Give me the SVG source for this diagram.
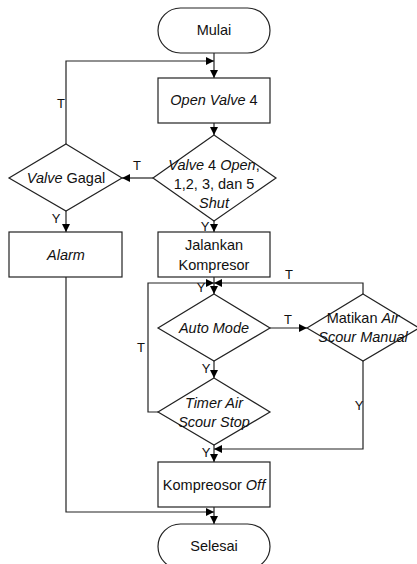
<svg xmlns="http://www.w3.org/2000/svg" width="417" height="564" viewBox="0 0 417 564">
  <defs>
    <marker id="arrow" viewBox="0 0 10 10" refX="10" refY="5" markerWidth="8" markerHeight="8" markerUnits="userSpaceOnUse" orient="auto">
      <path d="M0,0 L10,5 L0,10 Z" fill="#000"/>
    </marker>
    <style>
      .shape { fill: #fff; stroke: #222; stroke-width: 1.2; }
      .line { fill: none; stroke: #222; stroke-width: 1.2; }
      .arr { marker-end: url(#arrow); }
      text { font-family: "Liberation Sans", Arial, sans-serif; font-size: 14.5px; fill: #111; text-anchor: middle; }
      .lbl { font-size: 13px; }
      .it { font-style: italic; }
    </style>
  </defs>
  <rect width="417" height="564" fill="#fff"/>

  <!-- connectors -->
  <g id="connectors">
    <path class="line arr" d="M214,53 V78"/>
    <path class="line arr" d="M66,144 V61 H214"/>
    <path class="line arr" d="M214,123 V135"/>
    <path class="line arr" d="M153,178 H122"/>
    <path class="line arr" d="M66,211 V232"/>
    <path class="line arr" d="M214,221 V232"/>
    <path class="line arr" d="M214,277 V294"/>
    <path class="line arr" d="M363,294 V283 H214"/>
    <path class="line arr" d="M158,412 H148 V283 H214"/>
    <path class="line arr" d="M270,328 H307"/>
    <path class="line arr" d="M214,361 V378"/>
    <path class="line arr" d="M363,361 V449 H214"/>
    <path class="line arr" d="M214,445 V462"/>
    <path class="line arr" d="M66,277 V512 H214"/>
    <path class="line arr" d="M214,507 V524"/>
    <text class="lbl" x="61" y="108">T</text>
    <text class="lbl" x="137" y="170">T</text>
    <text class="lbl" x="56" y="223">Y</text>
    <text class="lbl" x="205" y="231">Y</text>
    <text class="lbl" x="289" y="279">T</text>
    <text class="lbl" x="201" y="292">Y</text>
    <text class="lbl" x="288" y="324">T</text>
    <text class="lbl" x="141" y="352">T</text>
    <text class="lbl" x="206" y="373">Y</text>
    <text class="lbl" x="359" y="410">Y</text>
    <text class="lbl" x="206" y="457">Y</text>
  </g>

  <g id="mulai">
    <rect class="shape" x="158" y="8" width="112" height="45" rx="22.5"/>
    <text x="214" y="35">Mulai</text>
  </g>

  <g id="open-valve">
    <rect class="shape" x="158" y="78" width="112" height="45"/>
    <text x="214" y="105"><tspan class="it">Open Valve</tspan> 4</text>
  </g>

  <g id="cek-valve">
    <polygon class="shape" points="214,135 276,178 214,221 153,178"/>
    <text x="214" y="170"><tspan class="it">Valve</tspan> 4 <tspan class="it">Open</tspan>,</text>
    <text x="214" y="189">1,2, 3, dan 5</text>
    <text x="214" y="208" class="it">Shut</text>
  </g>

  <g id="valve-gagal">
    <polygon class="shape" points="66,144 122,178 66,211 9,178"/>
    <text x="66" y="183"><tspan class="it">Valve</tspan> Gagal</text>
  </g>

  <g id="alarm">
    <rect class="shape" x="9" y="232" width="113" height="45"/>
    <text x="66" y="260" class="it">Alarm</text>
  </g>

  <g id="jalankan">
    <rect class="shape" x="158" y="232" width="112" height="45"/>
    <text x="214" y="250">Jalankan</text>
    <text x="214" y="270">Kompresor</text>
  </g>

  <g id="auto-mode">
    <polygon class="shape" points="214,294 270,328 214,361 158,328"/>
    <text x="214" y="333" class="it">Auto Mode</text>
  </g>

  <g id="matikan">
    <polygon class="shape" points="363,294 419,328 363,361 307,328"/>
    <text x="363" y="323">Matikan <tspan class="it">Air</tspan></text>
    <text x="363" y="342" class="it">Scour Manual</text>
  </g>

  <g id="timer">
    <polygon class="shape" points="214,378 270,412 214,445 158,412"/>
    <text x="214" y="408" class="it">Timer Air</text>
    <text x="214" y="427" class="it">Scour Stop</text>
  </g>

  <g id="kompresor-off">
    <rect class="shape" x="158" y="462" width="112" height="45"/>
    <text x="214" y="490">Kompreosor <tspan class="it">Off</tspan></text>
  </g>

  <g id="selesai">
    <rect class="shape" x="158" y="524" width="112" height="45" rx="22.5"/>
    <text x="214" y="551">Selesai</text>
  </g>
</svg>
